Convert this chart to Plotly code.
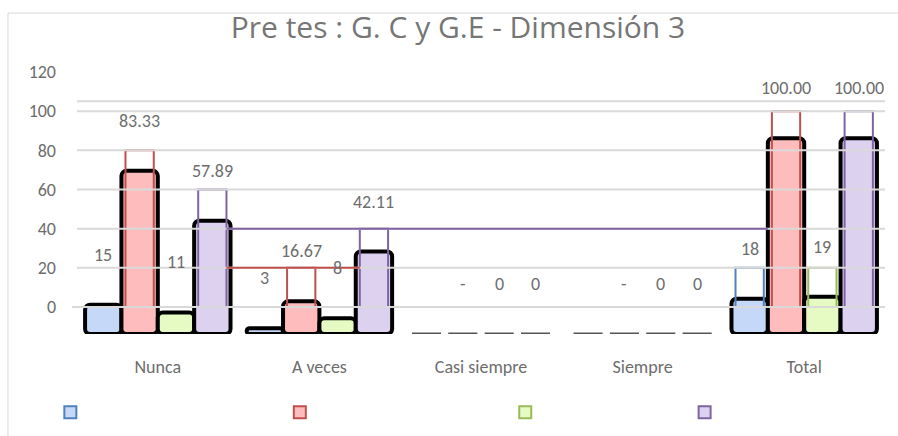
import plotly.graph_objects as go

# ---------------- data ----------------
categories = ["Nunca", "A veces", "Casi siempre", "Siempre", "Total"]
blue_values = [15, 3, 0, 0, 18]
red_values = [83.33, 16.67, 0, 0, 100.00]
green_values = [11, 8, 0, 0, 19]
purple_values = [57.89, 42.11, 0, 0, 100.00]
blue_labels = ["15", "3", "", "", "18"]
red_labels = ["83.33", "16.67", "-", "-", "100.00"]
green_labels = ["11", "8", "0", "0", "19"]
purple_labels = ["57.89", "42.11", "0", "0", "100.00"]
y_ticks = [0, 20, 40, 60, 80, 100, 120]
title_text = "Pre tes : G. C y G.E - Dimensión 3"

# ---------------- style ----------------
FONT = "Carlito, Lato, sans-serif"
TITLE_FONT = "Open Sans, sans-serif"
TXT = "#6d6d6d"
GRID = "#d9d9d9"
FLOOR = -13.8          # 3D floor of the chart (bars start here)
BAR_W = 0.225
ZERO_W = 0.18
BACK_W = 0.175
LEGEND_X = [-0.033, 0.251, 0.530, 0.752]
series = [
    dict(vals=blue_values, labels=blue_labels, fill="#c6d8f8", edge="#4f81bd", back=[0, 0, 0, 0, 1]),
    dict(vals=red_values, labels=red_labels, fill="#ffbcbc", edge="#c0504d", back=[1, 1, 1, 1, 1]),
    dict(vals=green_values, labels=green_labels, fill="#e6fbc4", edge="#9bbb59", back=[0, 0, 0, 0, 1]),
    dict(vals=purple_values, labels=purple_labels, fill="#ddd1f0", edge="#8064a2", back=[1, 1, 1, 1, 1]),
]
idx = list(range(len(categories)))


def round20(v):
    return 20 * round(v / 20)


def center(k):
    return (k - 1.5) * BAR_W


fig = go.Figure()

# front (filled) 3D-like bars
for k, s in enumerate(series):
    widths = [BAR_W if v else ZERO_W for v in s["vals"]]
    fig.add_trace(go.Bar(
        x=idx, y=s["vals"], base=FLOOR, width=widths,
        offset=[center(k) - w / 2 for w in widths],
        marker=dict(color=s["fill"],
                    line=dict(color=["black" if v else "#555555" for v in s["vals"]],
                              width=[4 if v else 3 for v in s["vals"]]),
                    cornerradius=5),
        showlegend=False, hoverinfo="skip"))

# back-wall outlines
for k, s in enumerate(series):
    cols = [s["edge"] if b else "rgba(0,0,0,0)" for b in s["back"]]
    fig.add_trace(go.Bar(
        x=idx, y=[round20(v) for v in s["vals"]], base=0, width=BACK_W,
        offset=center(k) - BACK_W / 2,
        marker=dict(color="rgba(0,0,0,0)", line=dict(color=cols, width=2)),
        showlegend=False, hoverinfo="skip"))

# legend entries (no names), one legend box per series
legend_names = ["legend", "legend2", "legend3", "legend4"]
for s, lg in zip(series, legend_names):
    fig.add_trace(go.Scatter(
        x=[None], y=[None], mode="markers", name="", legend=lg,
        marker=dict(symbol="square", size=12, color=s["fill"],
                    line=dict(color=s["edge"], width=2))))

shapes = []
for t in y_ticks:
    if t <= 100:
        shapes.append(dict(type="line", xref="paper", yref="y", x0=-0.006 if t == 0 else 0,
                           x1=1, y0=t, y1=t, line=dict(color=GRID, width=2), layer="above"))
# back wall top edge
shapes.append(dict(type="line", xref="paper", yref="y", x0=0, x1=1, y0=105, y1=105,
                   line=dict(color=GRID, width=2), layer="above"))

# connecting back-wall lines (artifacts of the 3D rendering)
p_right = 0 + center(3) + BACK_W / 2
shapes.append(dict(type="line", xref="x", yref="y", x0=p_right, x1=4 + center(1) - BAR_W / 2,
                   y0=round20(purple_values[1]), y1=round20(purple_values[1]),
                   line=dict(color=series[3]["edge"], width=2), layer="above"))
shapes.append(dict(type="line", xref="x", yref="y", x0=p_right, x1=1 + center(3) - BACK_W / 2,
                   y0=round20(red_values[1]), y1=round20(red_values[1]),
                   line=dict(color=series[1]["edge"], width=2), layer="above"))

# chart border
shapes.append(dict(type="rect", xref="paper", yref="paper", x0=-0.0854, x1=1.05, y0=-0.6, y1=1.225,
                   line=dict(color=GRID, width=1), layer="below"))

annotations = []
for k, s in enumerate(series):
    for i, (v, lab) in enumerate(zip(s["vals"], s["labels"])):
        if lab == "":
            continue
        annotations.append(dict(x=i + center(k), y=v, xref="x", yref="y", text=lab,
                                showarrow=False, yshift=23,
                                font=dict(family=FONT, size=18, color=TXT)))

legend_common = dict(orientation="h", xanchor="left", y=-0.300, yanchor="middle",
                     font=dict(family=FONT, size=14), bgcolor="rgba(0,0,0,0)")

fig.update_layout(
    width=898, height=436,
    margin=dict(l=77, r=13, t=72, b=102, autoexpand=False),
    paper_bgcolor="white", plot_bgcolor="white",
    barmode="overlay",
    title=dict(text=title_text, x=0.51, xanchor="center", y=0.937, yanchor="middle",
               font=dict(family=TITLE_FONT, size=30, color="#767676")),
    xaxis=dict(range=[-0.5, 4.5], tickvals=idx, ticktext=categories, showgrid=False,
               zeroline=False, ticks="", ticklabelstandoff=20, automargin=False,
               tickfont=dict(family=FONT, size=18, color=TXT)),
    yaxis=dict(range=[FLOOR, 120], tickvals=y_ticks, showgrid=False, zeroline=False,
               ticks="", ticklabelstandoff=20, automargin=False,
               tickfont=dict(family=FONT, size=18, color=TXT)),
    showlegend=True,
    legend=dict(x=LEGEND_X[0], **legend_common),
    legend2=dict(x=LEGEND_X[1], **legend_common),
    legend3=dict(x=LEGEND_X[2], **legend_common),
    legend4=dict(x=LEGEND_X[3], **legend_common),
    shapes=shapes, annotations=annotations,
)

fig.write_html("out.html", config={"displayModeBar": False},
               post_script="document.body.style.margin='0';")
